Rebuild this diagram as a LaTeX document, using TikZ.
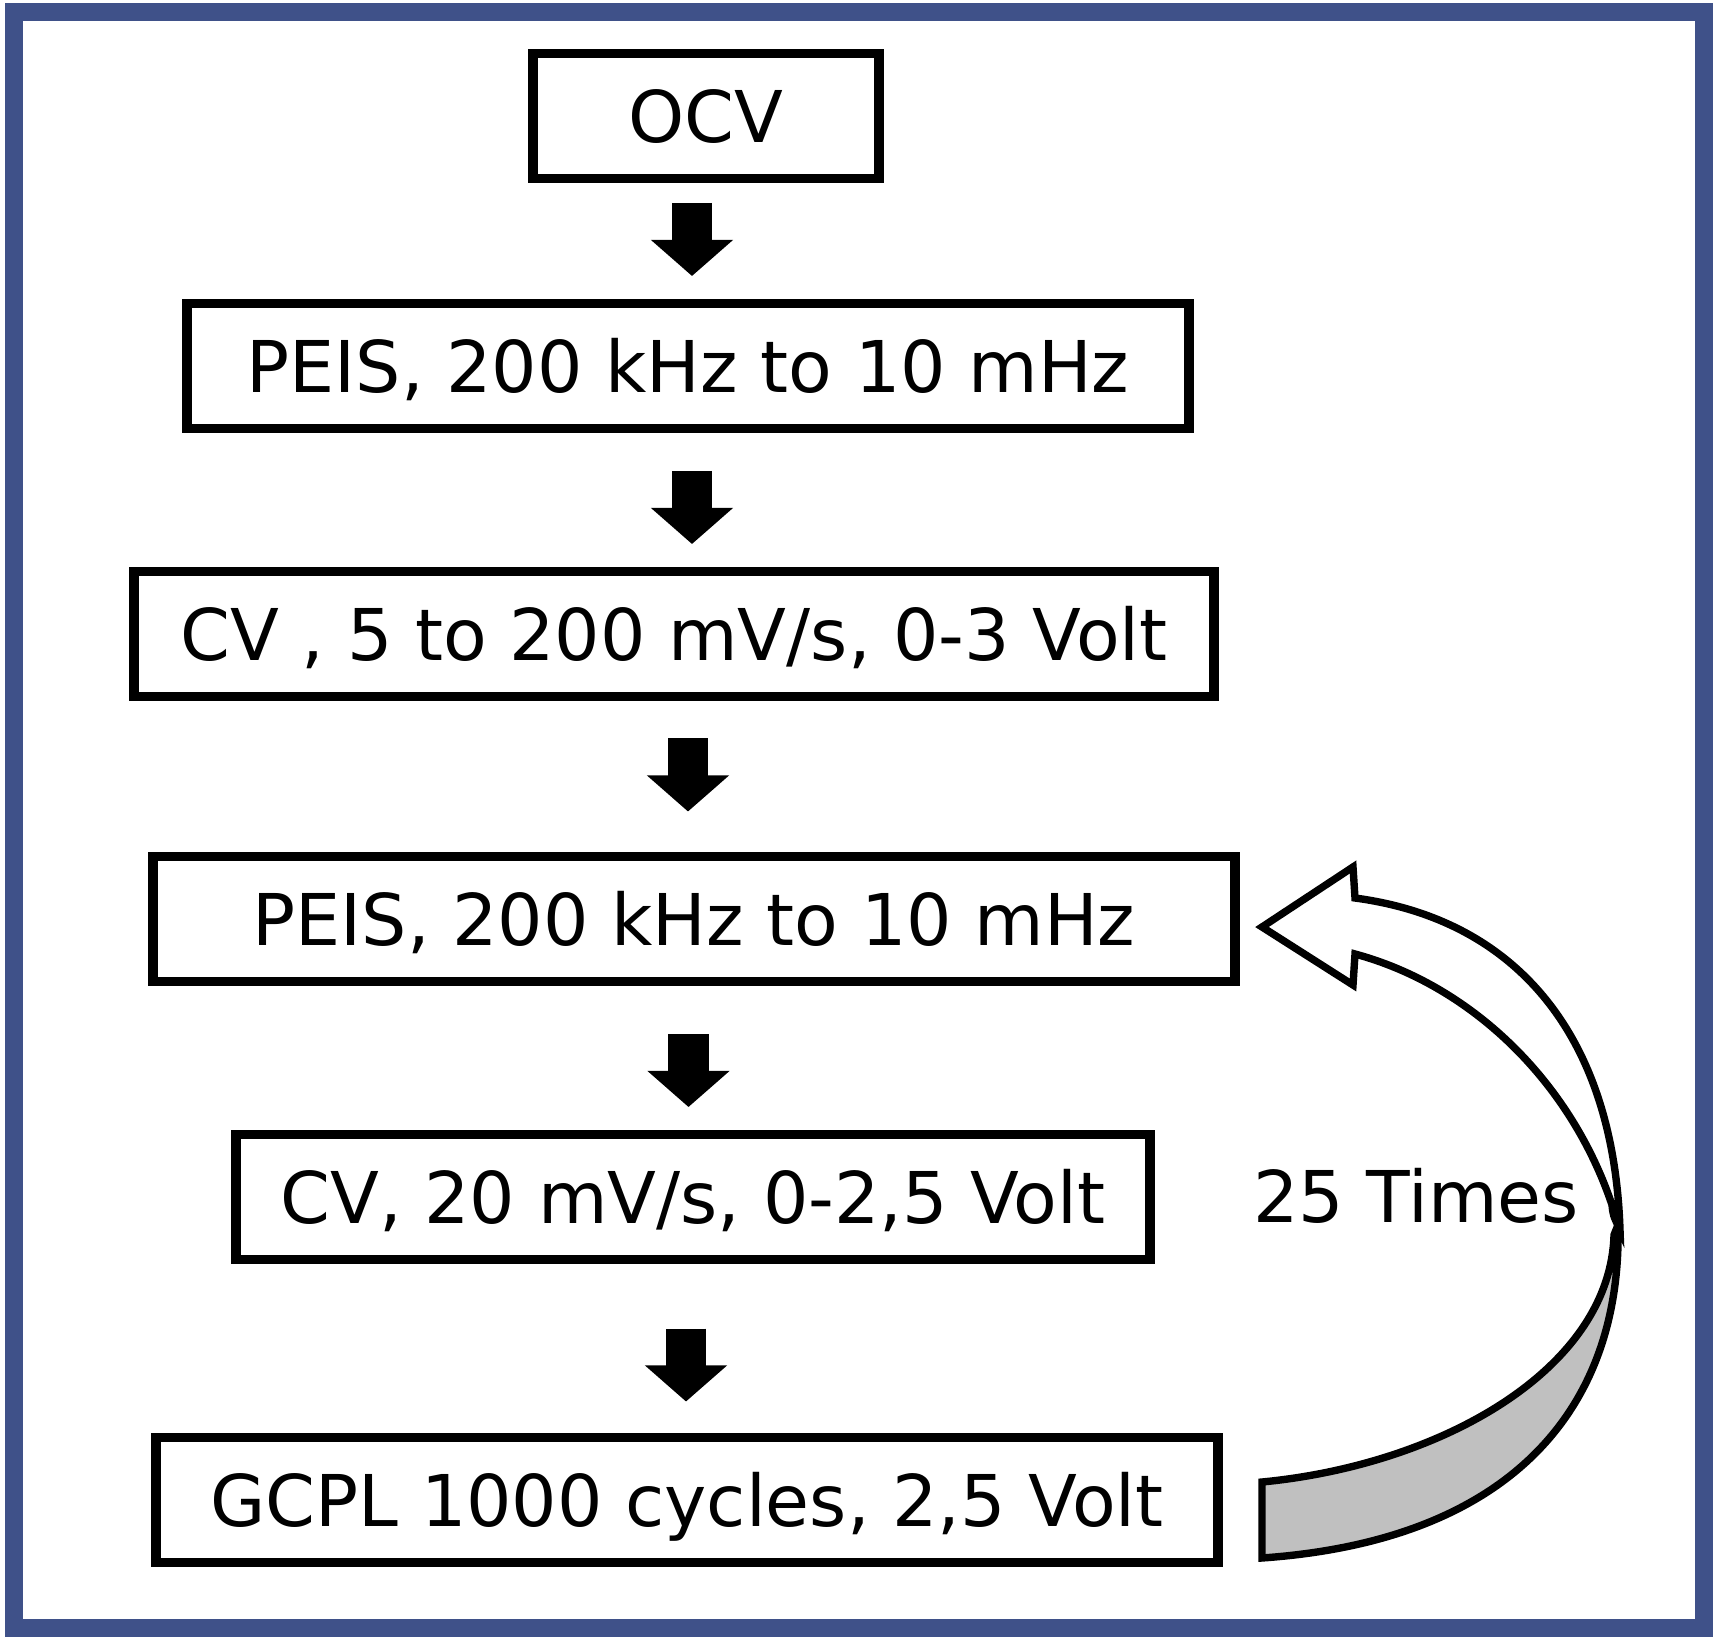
\documentclass[tikz,border=0pt]{standalone}
\usepackage{fontspec}
\setmainfont{DejaVu Sans}
\usetikzlibrary{arrows.meta,calc}
\definecolor{framecol}{RGB}{63,81,137}
\definecolor{ribboncol}{RGB}{192,192,192}

\begin{document}
\begin{tikzpicture}[x=0.01cm,y=-0.01cm, every node/.style={font=\fontsize{20.3}{24}\selectfont},
  block/.style={draw, line width=2.8pt, outer sep=0pt, inner sep=0pt, minimum height=1.25cm, text height=0.52cm, text depth=0pt},
  line/.style={-{Triangle[width=0.8cm,length=0.36cm]}, line width=0.4cm, black},
  loop/.style={draw=black, line width=2.1pt, line join=miter},
  frame/.style={draw=framecol, line width=0.18cm}]
  \useasboundingbox (0,0) rectangle (1721,1643);
  \draw[frame] (14,12) rectangle (1704,1628);
  \node[block,minimum width=3.45cm] (ocv) at (706,116) {OCV};
  \node[block,minimum width=10.02cm] (peis1) at (688,366) {PEIS, 200 kHz to 10 mHz};
  \node[block,minimum width=10.80cm] (cv1) at (674,634) {CV , 5 to 200 mV/s, 0-3 Volt};
  \node[block,minimum width=10.81cm] (peis2) at (694,919) {PEIS, 200 kHz to 10 mHz};
  \node[block,minimum width=9.13cm] (cv2) at (693,1197) {CV, 20 mV/s, 0-2,5 Volt};
  \node[block,minimum width=10.61cm] (gcpl) at (687,1500) {GCPL 1000 cycles, 2,5 Volt};
  \node (times) at (1416,1196) {25 Times};
  % step arrows
  \foreach \a/\b/\dx/\dy in {ocv/peis1/-5/-2, peis1/cv1/11/7, cv1/peis2/4/-2, peis2/cv2/-5/12, cv2/gcpl/-4/16}
    \draw[line] ($(\a.south)!0.5!(\b.north)+(\dx,\dy-36)$) -- ++(0,73);
  % repeat loop
  \path[loop, fill=ribboncol] (1618,1225) .. controls (1622,1400) and (1520,1540) .. (1262,1558)
    -- (1262,1482) .. controls (1440,1465) and (1610,1370) .. (1614,1235) -- cycle;
  \path[loop, fill=white] (1262,927) -- (1353,867) -- (1355,898) .. controls (1520,920) and (1614,1040) .. (1620,1230)
    .. controls (1613,1215) .. (1612,1205) .. controls (1570,1080) and (1470,985) .. (1355,954) -- (1353,985) -- cycle;
\end{tikzpicture}
\end{document}
